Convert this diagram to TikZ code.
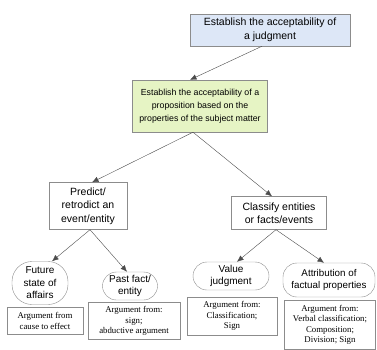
\documentclass[tikz,border=0pt]{standalone}
\usepackage{fontspec}
\setmainfont{Liberation Serif}
\setsansfont{Liberation Sans}
\usetikzlibrary{arrows.meta}
\definecolor{judgblue}{HTML}{DDE7F7}
\definecolor{propgreen}{HTML}{E6F4C4}
\definecolor{boxgray}{HTML}{8C8C8C}
\begin{document}
\begin{tikzpicture}[x=1pt,y=-1pt,
  goal/.style={rectangle,draw=boxgray,align=center,inner sep=1pt,font=\sffamily\fontsize{10.5}{13.5}\selectfont},
  claim/.style={rectangle,draw=boxgray,rounded corners=14pt,align=center,inner sep=1pt,font=\sffamily\fontsize{10}{12.5}\selectfont},
  scheme/.style={rectangle,draw=boxgray,align=center,inner sep=1pt,font=\fontsize{8.8}{10.5}\selectfont},
  link/.style={draw=black!70,-{Latex[length=6.5pt,width=5.5pt]}}]
\useasboundingbox (0,0) rectangle (377,350);
\draw (270,30) node[goal,fill=judgblue,minimum width=160pt,minimum height=32pt] (judg) {Establish the acceptability of\\a judgment};
\draw (200,106) node[goal,fill=propgreen,minimum width=135pt,minimum height=52pt,font=\sffamily\fontsize{8.8}{13}\selectfont] (prop) {Establish the acceptability of a\\proposition based on the\\properties of the subject matter};
\draw (88,206) node[goal,minimum width=78pt,minimum height=47pt] (pred) {Predict/\\retrodict an\\event/entity};
\draw (279,213) node[goal,minimum width=95pt,minimum height=33pt] (clas) {Classify entities\\or facts/events};
\draw (40,283) node[claim,rounded corners=20pt,minimum width=56pt,minimum height=43pt] (futr) {Future\\state of\\affairs};
\draw (130,286) node[claim,minimum width=55pt,minimum height=28pt] (past) {Past fact/\\entity};
\draw (231,276) node[claim,minimum width=76pt,minimum height=28pt] (valj) {Value\\judgment};
\draw (329,280) node[claim,minimum width=92pt,minimum height=34pt,font=\sffamily\fontsize{9.8}{12.5}\selectfont] (attr) {Attribution of\\factual properties};
\draw (45,321) node[scheme,minimum width=76pt,minimum height=27pt] (cause) {Argument from\\cause to effect};
\draw (134,321) node[scheme,minimum width=92pt,minimum height=37pt] (sign) {Argument from:\\sign;\\abductive argument};
\draw (232,316) node[scheme,minimum width=90pt,minimum height=38pt] (csign) {Argument from:\\Classification;\\Sign};
\draw (330,325) node[scheme,minimum width=91pt,minimum height=49pt] (verb) {Argument from:\\Verbal classification;\\Composition;\\Division; Sign};
\draw[link] ([xshift=-8pt]judg.south) -- ([xshift=-10pt]prop.north);
\draw[link] ([xshift=-7pt]prop.south) -- ([xshift=4pt]pred.north);
\draw[link] ([xshift=-7pt]prop.south) -- ([xshift=-7pt]clas.north);
\draw[link] ([xshift=2pt]pred.south) -- ([xshift=12pt]futr.north);
\draw[link] ([xshift=2pt]pred.south) -- ([xshift=-3pt]past.north);
\draw[link] ([xshift=-3pt]clas.south) -- ([xshift=6pt]valj.north);
\draw[link] ([xshift=-3pt]clas.south) -- ([xshift=-5pt]attr.north);
\end{tikzpicture}
\end{document}
